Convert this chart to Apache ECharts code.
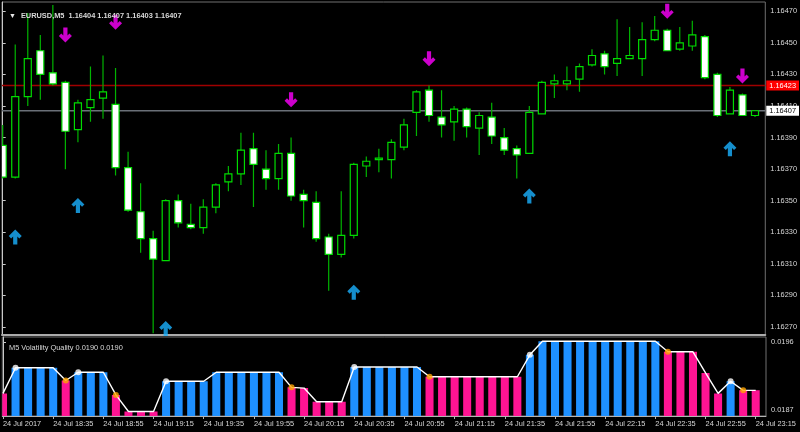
<!DOCTYPE html>
<html><head><meta charset="utf-8">
<script src="https://cdn.jsdelivr.net/npm/echarts@6/dist/echarts.min.js"></script>
<style>html,body{margin:0;padding:0;background:#000;}#c{width:800px;height:432px;}</style>
</head><body><div id="c"></div>
<script>
const symbolName = 'EURUSD,M5';
const indicatorName = 'M5 Volatility Quality';
const timeTickIdx = [0,4,8,12,16,20,24,28,32,36,40,44,48,52,56,60];
const timeTickLabels = ['24 Jul 2017','24 Jul 18:35','24 Jul 18:55','24 Jul 19:15','24 Jul 19:35','24 Jul 19:55','24 Jul 20:15','24 Jul 20:35','24 Jul 20:55','24 Jul 21:15','24 Jul 21:35','24 Jul 21:55','24 Jul 22:15','24 Jul 22:35','24 Jul 22:55','24 Jul 23:15'];
const priceTicks = [1.16270,1.16290,1.16310,1.16330,1.16350,1.16370,1.16390,1.16410,1.16430,1.16450,1.16470];
const vqTicks = [0.0187, 0.0196];

const openP = [1.16385,1.16365,1.16416,1.16445,1.16431,1.16425,1.16395,1.16409,1.16415,1.16411,
1.16371,1.16343,1.16326,1.16312,1.16350,1.16335,1.16333,1.16346,1.16362,1.16367,
1.16383,1.16370,1.16364,1.16380,1.16354,1.16349,1.16327,1.16316,1.16328,1.16372,
1.16376,1.16376,1.16384,1.16406,1.16420,1.16403,1.16400,1.16408,1.16396,1.16403,
1.16390,1.16383,1.16380,1.16405,1.16424,1.16424,1.16427,1.16436,1.16443,1.16437,
1.16440,1.16440,1.16452,1.16458,1.16446,1.16448,1.16454,1.16430,1.16405,1.16417,1.16404];
const highP = [1.16398,1.16449,1.16469,1.16455,1.16474,1.16426,1.16414,1.16435,1.16442,1.16434,
1.16381,1.16361,1.16331,1.16351,1.16354,1.16348,1.16351,1.16361,1.16372,1.16393,
1.16393,1.16382,1.16386,1.16390,1.16357,1.16356,1.16329,1.16356,1.16374,1.16378,
1.16383,1.16389,1.16402,1.16420,1.16423,1.16420,1.16410,1.16409,1.16406,1.16412,
1.16396,1.16385,1.16410,1.16426,1.16430,1.16435,1.16437,1.16446,1.16445,1.16465,
1.16460,1.16463,1.16467,1.16459,1.16460,1.16464,1.16455,1.16431,1.16422,1.16418,1.16407];
const lowP = [1.16364,1.16364,1.16410,1.16414,1.16423,1.16370,1.16387,1.16400,1.16402,1.16366,
1.16343,1.16317,1.16266,1.16312,1.16333,1.16332,1.16329,1.16342,1.16356,1.16360,
1.16346,1.16357,1.16357,1.16350,1.16333,1.16324,1.16293,1.16314,1.16326,1.16365,
1.16368,1.16364,1.16382,1.16391,1.16400,1.16390,1.16388,1.16390,1.16379,1.16386,
1.16379,1.16364,1.16380,1.16405,1.16415,1.16420,1.16419,1.16435,1.16430,1.16429,
1.16440,1.16429,1.16451,1.16445,1.16445,1.16445,1.16427,1.16403,1.16405,1.16404,1.16403];
const closeP = [1.16365,1.16416,1.16440,1.16430,1.16424,1.16394,1.16412,1.16414,1.16419,1.16371,
1.16344,1.16326,1.16313,1.16350,1.16336,1.16333,1.16346,1.16360,1.16367,1.16382,
1.16373,1.16364,1.16380,1.16353,1.16350,1.16326,1.16316,1.16328,1.16373,1.16375,
1.16377,1.16387,1.16398,1.16419,1.16404,1.16398,1.16408,1.16397,1.16404,1.16391,
1.16382,1.16379,1.16406,1.16425,1.16426,1.16426,1.16435,1.16442,1.16435,1.16440,
1.16442,1.16452,1.16458,1.16445,1.16450,1.16455,1.16428,1.16404,1.16420,1.16404,1.16407];

const askPrice = 1.16423;
const bidPrice = 1.16407;

const buyArrowIdx = [1,6,13,28,42,58];
const buyArrowPrice = [1.16327,1.16347,1.16269,1.16292,1.16353,1.16383];
const sellArrowIdx = [5,9,23,34,53,59];
const sellArrowPrice = [1.16455,1.16463,1.16414,1.16440,1.16470,1.16429];

const vq = [0.01892,0.01926,0.01926,0.01926,0.01926,0.01909,0.01920,0.01920,0.01920,0.01890,
0.01868,0.01868,0.01868,0.01908,0.01908,0.01908,0.01908,0.01920,0.01920,0.01920,
0.01920,0.01920,0.01920,0.01900,0.01899,0.01881,0.01881,0.01881,0.01927,0.01927,
0.01927,0.01927,0.01927,0.01927,0.01914,0.01914,0.01914,0.01914,0.01914,0.01914,
0.01914,0.01914,0.01943,0.01961,0.01961,0.01961,0.01961,0.01961,0.01961,0.01961,
0.01961,0.01961,0.01961,0.01947,0.01947,0.01947,0.01919,0.01892,0.01908,0.01896,0.01896];
const vqTrend = [-1,1,1,1,1,-1,1,1,1,-1,
-1,-1,-1,1,1,1,1,1,1,1,
1,1,1,-1,-1,-1,-1,-1,1,1,
1,1,1,1,-1,-1,-1,-1,-1,-1,
-1,-1,1,1,1,1,1,1,1,1,
1,1,1,-1,-1,-1,-1,-1,1,-1,-1];

const FONT = "'Liberation Sans',Arial,sans-serif";
const FS = 7.4;
const TXT = '#d8d8d8';
const BLUE = '#1e90ff', PINK = '#ff1493';

const candleData = openP.map((o,i)=>[i,o,highP[i],lowP[i],closeP[i]]);
const last = openP.length-1;
const headText = symbolName + '  ' + [openP[last],highP[last],lowP[last],closeP[last]].map(v=>v.toFixed(5)).join(' ');
const vqLast = vq[vq.length-1].toFixed(4);

const upDots = [], downDots = [];
for (let i=1;i<vq.length;i++){
  if (vqTrend[i]!==vqTrend[i-1]) (vqTrend[i]>0?upDots:downDots).push([i,vq[i]]);
}

// price lines: [x-anchor, price, style id]
const priceLines = [[0, askPrice, 0], [0, bidPrice, 1]];
const priceLineStyles = [
  {line:'#a00000', boxBg:'#ff0000', boxText:'#ffffff'},
  {line:'#6a7078', boxBg:'#ffffff', boxText:'#000000'}
];

const upPath = 'path://M6.5,0 L13,6.5 L10.6,8.9 L8.6,6.9 L8.6,15 L4.4,15 L4.4,6.9 L2.4,8.9 L0,6.5 Z';
const downPath = 'path://M6.5,15 L13,8.5 L10.6,6.1 L8.6,8.1 L8.6,0 L4.4,0 L4.4,8.1 L2.4,6.1 L0,8.5 Z';

function clipOf(params){
  const c = params.coordSys;
  return {type:'rect', shape:{x:c.x, y:c.y, width:c.width, height:c.height}};
}

const chart = echarts.init(document.getElementById('c'), null, {renderer:'canvas'});
chart.setOption({
  backgroundColor:'#000',
  animation:false,
  title:[
    {left:4, top:2, text:'{t|▼} {n|'+headText+'}', textStyle:{rich:{t:{fontSize:7,color:'#e8e8e8',fontFamily:FONT},n:{fontSize:FS,color:TXT,fontFamily:FONT}}}},
    {left:4, top:339, text:indicatorName+' '+vqLast+' '+vqLast, textStyle:{fontSize:FS,color:TXT,fontFamily:FONT,fontWeight:'normal'}}
  ],
  grid:[
    {left:2, right:34, top:2, height:333, show:true, borderColor:'#707070', borderWidth:1, backgroundColor:'transparent'},
    {left:2, right:34, top:337, height:79, show:true, borderColor:'#707070', borderWidth:1, backgroundColor:'transparent'}
  ],
  xAxis:[
    {type:'value', gridIndex:0, min:-0.0558, max:60.82, axisLabel:{show:false}, axisTick:{show:false}, splitLine:{show:false},
     axisLine:{show:true, onZero:false, lineStyle:{color:'#ababab', width:2}}},
    {type:'value', gridIndex:1, min:-0.0558, max:60.82, splitLine:{show:false},
     axisLine:{show:true, onZero:false, lineStyle:{color:'#b4b4b4', width:1}},
     axisTick:{show:true, length:3, customValues:timeTickIdx, lineStyle:{color:'#b4b4b4'}},
     axisLabel:{show:true, customValues:timeTickIdx, align:'left', margin:4, color:TXT, fontSize:FS, fontFamily:FONT,
       showMinLabel:true, showMaxLabel:true,
       formatter:(v)=>{const k=timeTickIdx.indexOf(Math.round(v)); return k>=0?timeTickLabels[k]:'';}}}
  ],
  yAxis:[
    {type:'value', gridIndex:0, position:'right', min:1.1626493, max:1.1647589, splitLine:{show:false}, scale:true,
     axisLine:{show:true, lineStyle:{color:'#c8c8c8'}},
     axisTick:{show:true, length:3, customValues:priceTicks, lineStyle:{color:'#c8c8c8'}},
     axisLabel:{show:true, customValues:priceTicks, margin:5, color:TXT, fontSize:FS, fontFamily:FONT,
       showMinLabel:true, showMaxLabel:true, formatter:(v)=>v.toFixed(5)}},
    {type:'value', gridIndex:1, position:'right', min:0.0186206, max:0.0196662, splitLine:{show:false}, scale:true,
     axisLine:{show:true, lineStyle:{color:'#c8c8c8'}},
     axisTick:{show:true, length:3, customValues:vqTicks, lineStyle:{color:'#c8c8c8'}},
     axisLabel:{show:true, customValues:vqTicks, margin:5, color:TXT, fontSize:FS, fontFamily:FONT,
       showMinLabel:true, showMaxLabel:true, formatter:(v)=>v.toFixed(4)}}
  ],
  series:[
    {type:'custom', xAxisIndex:0, yAxisIndex:0, z:2, silent:true, data:priceLines, encode:{x:0, y:1},
     renderItem:(params, api)=>{
       const price=api.value(1), s=priceLineStyles[api.value(2)];
       const cs=params.coordSys;
       const y=api.coord([0, price])[1];
       return {type:'group', children:[
         {type:'line', shape:{x1:cs.x, y1:y, x2:cs.x+cs.width, y2:y}, style:{stroke:s.line, lineWidth:1.3}},
         {type:'text', x:cs.x+cs.width+1, y:y, z2:10,
          style:{text:price.toFixed(5), fill:s.boxText, backgroundColor:s.boxBg, padding:[2,3,1,3],
                 font:FS+'px '+FONT, verticalAlign:'middle', align:'left'}}
       ]};
     }},
    {type:'scatter', xAxisIndex:0, yAxisIndex:0, z:4, silent:true, symbol:upPath, symbolSize:[13,15],
     itemStyle:{color:'#1ab2ff'}, data:buyArrowIdx.map((x,k)=>[x,buyArrowPrice[k]])},
    {type:'custom', xAxisIndex:0, yAxisIndex:0, z:3, silent:true, data:candleData,
     encode:{x:0, y:[1,2,3,4]},
     renderItem:(params, api)=>{
       const i=api.value(0), o=api.value(1), h=api.value(2), l=api.value(3), c=api.value(4);
       const pO=api.coord([i,o]), pC=api.coord([i,c]), pH=api.coord([i,h]), pL=api.coord([i,l]);
       const x=pO[0];
       const w=api.size([1,0])[0]*0.56;
       const top=Math.min(pO[1],pC[1]), bot=Math.max(pO[1],pC[1]);
       return {type:'group', clipPath:clipOf(params), children:[
         {type:'line', shape:{x1:x,y1:pH[1],x2:x,y2:pL[1]}, style:{stroke:'#00b400', lineWidth:1.2}},
         {type:'rect', shape:{x:x-w/2, y:top, width:w, height:Math.max(bot-top,0.6)},
          style:{fill: c>=o ? '#000000' : '#ffffff', stroke:'#00dc00', lineWidth:1.2}}
       ]};
     }},
    {type:'scatter', xAxisIndex:0, yAxisIndex:0, z:4, silent:true, symbol:downPath, symbolSize:[13,15],
     itemStyle:{color:'#ff00ff'}, data:sellArrowIdx.map((x,k)=>[x,sellArrowPrice[k]])},
    {type:'custom', xAxisIndex:1, yAxisIndex:1, z:2, silent:true, data:vq.map((v,i)=>[i,v,vqTrend[i]]),
     encode:{x:0,y:1},
     renderItem:(params, api)=>{
       const i=api.value(0), v=api.value(1), t=api.value(2);
       const p=api.coord([i,v]);
       const base=api.coord([i,0.0186206]);
       const w=api.size([1,0])[0]*0.64;
       return {type:'rect', clipPath:clipOf(params), shape:{x:p[0]-w/2, y:p[1], width:w, height:base[1]-p[1]},
         style:{fill: t>0 ? BLUE : PINK}};
     }},
    {type:'line', xAxisIndex:1, yAxisIndex:1, z:5, silent:true, symbol:'none', data:vq.map((v,i)=>[i,v]),
     lineStyle:{color:'#ffffff', width:1.4}},
    {type:'scatter', xAxisIndex:1, yAxisIndex:1, z:6, silent:true, symbolSize:6, itemStyle:{color:'#ffffff'}, data:upDots},
    {type:'scatter', xAxisIndex:1, yAxisIndex:1, z:6, silent:true, symbolSize:6, itemStyle:{color:'#ffa500'}, data:downDots}
  ]
});
</script>
</body></html>
